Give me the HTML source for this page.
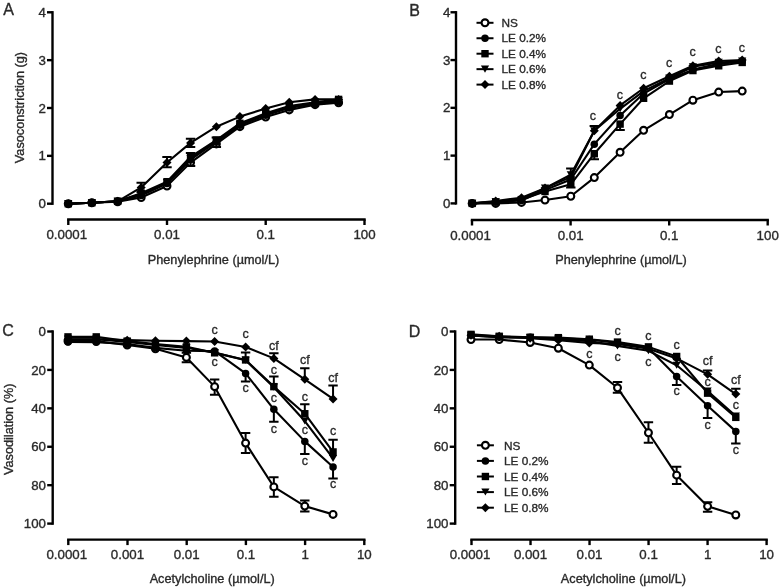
<!DOCTYPE html>
<html><head><meta charset="utf-8"><style>
html,body{margin:0;padding:0;background:#fff;}
svg{display:block;will-change:transform;}
text{font-family:"Liberation Sans", sans-serif;stroke:#2a2a2a;stroke-width:0.35px;}
</style></head><body>
<svg width="781" height="588" viewBox="0 0 781 588">
<rect width="781" height="588" fill="#fff"/>
<path d="M52.50,12.30 L52.50,203.70" stroke="#000" stroke-width="2.4" stroke-linecap="square"/>
<path d="M47.00,203.70 L52.50,203.70" stroke="#000" stroke-width="2.4"/>
<text x="46.00" y="208.30" font-size="13.3" text-anchor="end" fill="#2a2a2a" >0</text>
<path d="M47.00,155.85 L52.50,155.85" stroke="#000" stroke-width="2.4"/>
<text x="46.00" y="160.45" font-size="13.3" text-anchor="end" fill="#2a2a2a" >1</text>
<path d="M47.00,108.00 L52.50,108.00" stroke="#000" stroke-width="2.4"/>
<text x="46.00" y="112.60" font-size="13.3" text-anchor="end" fill="#2a2a2a" >2</text>
<path d="M47.00,60.15 L52.50,60.15" stroke="#000" stroke-width="2.4"/>
<text x="46.00" y="64.75" font-size="13.3" text-anchor="end" fill="#2a2a2a" >3</text>
<path d="M47.00,12.30 L52.50,12.30" stroke="#000" stroke-width="2.4"/>
<text x="46.00" y="16.90" font-size="13.3" text-anchor="end" fill="#2a2a2a" >4</text>
<path d="M68.30,219.50 L364.50,219.50" stroke="#000" stroke-width="2.4" stroke-linecap="square"/>
<path d="M68.30,219.50 L68.30,225.00" stroke="#000" stroke-width="2.4"/>
<text x="66.80" y="239.00" font-size="13.3" text-anchor="middle" fill="#2a2a2a" >0.0001</text>
<path d="M167.00,219.50 L167.00,225.00" stroke="#000" stroke-width="2.4"/>
<text x="167.00" y="239.00" font-size="13.3" text-anchor="middle" fill="#2a2a2a" >0.01</text>
<path d="M265.70,219.50 L265.70,225.00" stroke="#000" stroke-width="2.4"/>
<text x="265.70" y="239.00" font-size="13.3" text-anchor="middle" fill="#2a2a2a" >0.1</text>
<path d="M364.50,219.50 L364.50,225.00" stroke="#000" stroke-width="2.4"/>
<text x="364.50" y="239.00" font-size="13.3" text-anchor="middle" fill="#2a2a2a" >100</text>
<text x="213.50" y="263.80" font-size="12.7" text-anchor="middle" fill="#2a2a2a" >Phenylephrine (µmol/L)</text>
<text x="24.3" y="107.6" font-size="12.7" text-anchor="middle" fill="#2a2a2a" transform="rotate(-90 24.3 107.6)">Vasoconstriction (g)</text>
<text x="8.70" y="15.00" font-size="16" text-anchor="middle" fill="#2a2a2a" >A</text>
<path d="M68.30,203.70 L91.85,202.74 L117.65,201.79 L141.20,197.48 L167.00,186.00 L190.55,162.55 L216.35,143.89 L239.90,126.66 L265.70,117.09 L289.25,109.91 L315.05,104.65 L338.60,102.74" fill="none" stroke="#000" stroke-width="2.1" stroke-linejoin="round"/>
<circle cx="68.30" cy="203.70" r="3.45" fill="#fff" stroke="#000" stroke-width="2.1"/>
<circle cx="91.85" cy="202.74" r="3.45" fill="#fff" stroke="#000" stroke-width="2.1"/>
<circle cx="117.65" cy="201.79" r="3.45" fill="#fff" stroke="#000" stroke-width="2.1"/>
<circle cx="141.20" cy="197.48" r="3.45" fill="#fff" stroke="#000" stroke-width="2.1"/>
<circle cx="167.00" cy="186.00" r="3.45" fill="#fff" stroke="#000" stroke-width="2.1"/>
<circle cx="190.55" cy="162.55" r="3.45" fill="#fff" stroke="#000" stroke-width="2.1"/>
<circle cx="216.35" cy="143.89" r="3.45" fill="#fff" stroke="#000" stroke-width="2.1"/>
<circle cx="239.90" cy="126.66" r="3.45" fill="#fff" stroke="#000" stroke-width="2.1"/>
<circle cx="265.70" cy="117.09" r="3.45" fill="#fff" stroke="#000" stroke-width="2.1"/>
<circle cx="289.25" cy="109.91" r="3.45" fill="#fff" stroke="#000" stroke-width="2.1"/>
<circle cx="315.05" cy="104.65" r="3.45" fill="#fff" stroke="#000" stroke-width="2.1"/>
<circle cx="338.60" cy="102.74" r="3.45" fill="#fff" stroke="#000" stroke-width="2.1"/>
<path d="M68.30,203.70 L91.85,202.74 L117.65,201.31 L141.20,195.57 L167.00,183.60 L190.55,159.68 L216.35,141.97 L239.90,125.23 L265.70,115.18 L289.25,108.00 L315.05,103.69 L338.60,101.78" fill="none" stroke="#000" stroke-width="2.1" stroke-linejoin="round"/>
<circle cx="68.30" cy="203.70" r="3.75" fill="#000"/>
<circle cx="91.85" cy="202.74" r="3.75" fill="#000"/>
<circle cx="117.65" cy="201.31" r="3.75" fill="#000"/>
<circle cx="141.20" cy="195.57" r="3.75" fill="#000"/>
<circle cx="167.00" cy="183.60" r="3.75" fill="#000"/>
<circle cx="190.55" cy="159.68" r="3.75" fill="#000"/>
<circle cx="216.35" cy="141.97" r="3.75" fill="#000"/>
<circle cx="239.90" cy="125.23" r="3.75" fill="#000"/>
<circle cx="265.70" cy="115.18" r="3.75" fill="#000"/>
<circle cx="289.25" cy="108.00" r="3.75" fill="#000"/>
<circle cx="315.05" cy="103.69" r="3.75" fill="#000"/>
<circle cx="338.60" cy="101.78" r="3.75" fill="#000"/>
<path d="M68.30,203.70 L91.85,202.74 L117.65,201.31 L141.20,193.17 L167.00,181.69 L190.55,156.81 L216.35,140.06 L239.90,123.31 L265.70,113.26 L289.25,106.09 L315.05,102.26 L338.60,99.39" fill="none" stroke="#000" stroke-width="2.1" stroke-linejoin="round"/>
<path d="M190.55,153.00 L190.55,166.10 M185.85,153.00 L195.25,153.00 M185.85,166.10 L195.25,166.10" stroke="#000" stroke-width="2" fill="none"/>
<path d="M216.35,137.40 L216.35,146.90 M211.65,137.40 L221.05,137.40 M211.65,146.90 L221.05,146.90" stroke="#000" stroke-width="2" fill="none"/>
<rect x="64.60" y="200.00" width="7.40" height="7.40" fill="#000"/>
<rect x="88.15" y="199.04" width="7.40" height="7.40" fill="#000"/>
<rect x="113.95" y="197.61" width="7.40" height="7.40" fill="#000"/>
<rect x="137.50" y="189.47" width="7.40" height="7.40" fill="#000"/>
<rect x="163.30" y="177.99" width="7.40" height="7.40" fill="#000"/>
<rect x="186.85" y="153.11" width="7.40" height="7.40" fill="#000"/>
<rect x="212.65" y="136.36" width="7.40" height="7.40" fill="#000"/>
<rect x="236.20" y="119.61" width="7.40" height="7.40" fill="#000"/>
<rect x="262.00" y="109.56" width="7.40" height="7.40" fill="#000"/>
<rect x="285.55" y="102.39" width="7.40" height="7.40" fill="#000"/>
<rect x="311.35" y="98.56" width="7.40" height="7.40" fill="#000"/>
<rect x="334.90" y="95.69" width="7.40" height="7.40" fill="#000"/>
<path d="M68.30,203.70 L91.85,202.74 L117.65,201.31 L141.20,194.13 L167.00,182.65 L190.55,158.72 L216.35,141.02 L239.90,124.75 L265.70,114.22 L289.25,107.04 L315.05,103.21 L338.60,100.82" fill="none" stroke="#000" stroke-width="2.1" stroke-linejoin="round"/>
<path d="M64.20,200.10 L72.40,200.10 L68.30,207.20Z" fill="#000"/>
<path d="M87.75,199.14 L95.95,199.14 L91.85,206.24Z" fill="#000"/>
<path d="M113.55,197.71 L121.75,197.71 L117.65,204.81Z" fill="#000"/>
<path d="M137.10,190.53 L145.30,190.53 L141.20,197.63Z" fill="#000"/>
<path d="M162.90,179.05 L171.10,179.05 L167.00,186.15Z" fill="#000"/>
<path d="M186.45,155.12 L194.65,155.12 L190.55,162.22Z" fill="#000"/>
<path d="M212.25,137.42 L220.45,137.42 L216.35,144.52Z" fill="#000"/>
<path d="M235.80,121.15 L244.00,121.15 L239.90,128.25Z" fill="#000"/>
<path d="M261.60,110.62 L269.80,110.62 L265.70,117.72Z" fill="#000"/>
<path d="M285.15,103.44 L293.35,103.44 L289.25,110.54Z" fill="#000"/>
<path d="M310.95,99.61 L319.15,99.61 L315.05,106.71Z" fill="#000"/>
<path d="M334.50,97.22 L342.70,97.22 L338.60,104.32Z" fill="#000"/>
<path d="M68.30,203.70 L91.85,202.74 L117.65,201.31 L141.20,187.43 L167.00,162.55 L190.55,142.93 L216.35,126.66 L239.90,116.61 L265.70,108.48 L289.25,102.26 L315.05,99.39 L338.60,99.39" fill="none" stroke="#000" stroke-width="2.1" stroke-linejoin="round"/>
<path d="M141.20,182.70 L141.20,192.00 M136.50,182.70 L145.90,182.70 M136.50,192.00 L145.90,192.00" stroke="#000" stroke-width="2" fill="none"/>
<path d="M167.00,157.10 L167.00,167.30 M162.30,157.10 L171.70,157.10 M162.30,167.30 L171.70,167.30" stroke="#000" stroke-width="2" fill="none"/>
<path d="M190.55,138.70 L190.55,146.90 M185.85,138.70 L195.25,138.70 M185.85,146.90 L195.25,146.90" stroke="#000" stroke-width="2" fill="none"/>
<path d="M63.80,203.70 L68.30,199.20 L72.80,203.70 L68.30,208.20Z" fill="#000"/>
<path d="M87.35,202.74 L91.85,198.24 L96.35,202.74 L91.85,207.24Z" fill="#000"/>
<path d="M113.15,201.31 L117.65,196.81 L122.15,201.31 L117.65,205.81Z" fill="#000"/>
<path d="M136.70,187.43 L141.20,182.93 L145.70,187.43 L141.20,191.93Z" fill="#000"/>
<path d="M162.50,162.55 L167.00,158.05 L171.50,162.55 L167.00,167.05Z" fill="#000"/>
<path d="M186.05,142.93 L190.55,138.43 L195.05,142.93 L190.55,147.43Z" fill="#000"/>
<path d="M211.85,126.66 L216.35,122.16 L220.85,126.66 L216.35,131.16Z" fill="#000"/>
<path d="M235.40,116.61 L239.90,112.11 L244.40,116.61 L239.90,121.11Z" fill="#000"/>
<path d="M261.20,108.48 L265.70,103.98 L270.20,108.48 L265.70,112.98Z" fill="#000"/>
<path d="M284.75,102.26 L289.25,97.76 L293.75,102.26 L289.25,106.76Z" fill="#000"/>
<path d="M310.55,99.39 L315.05,94.89 L319.55,99.39 L315.05,103.89Z" fill="#000"/>
<path d="M334.10,99.39 L338.60,94.89 L343.10,99.39 L338.60,103.89Z" fill="#000"/>
<path d="M456.00,12.28 L456.00,203.40" stroke="#000" stroke-width="2.4" stroke-linecap="square"/>
<path d="M450.50,203.40 L456.00,203.40" stroke="#000" stroke-width="2.4"/>
<text x="450.30" y="208.00" font-size="13.3" text-anchor="end" fill="#2a2a2a" >0</text>
<path d="M450.50,155.62 L456.00,155.62" stroke="#000" stroke-width="2.4"/>
<text x="450.30" y="160.22" font-size="13.3" text-anchor="end" fill="#2a2a2a" >1</text>
<path d="M450.50,107.84 L456.00,107.84" stroke="#000" stroke-width="2.4"/>
<text x="450.30" y="112.44" font-size="13.3" text-anchor="end" fill="#2a2a2a" >2</text>
<path d="M450.50,60.06 L456.00,60.06" stroke="#000" stroke-width="2.4"/>
<text x="450.30" y="64.66" font-size="13.3" text-anchor="end" fill="#2a2a2a" >3</text>
<path d="M450.50,12.28 L456.00,12.28" stroke="#000" stroke-width="2.4"/>
<text x="450.30" y="16.88" font-size="13.3" text-anchor="end" fill="#2a2a2a" >4</text>
<path d="M472.00,220.00 L767.70,220.00" stroke="#000" stroke-width="2.4" stroke-linecap="square"/>
<path d="M472.00,220.00 L472.00,225.50" stroke="#000" stroke-width="2.4"/>
<text x="470.50" y="239.80" font-size="13.3" text-anchor="middle" fill="#2a2a2a" >0.0001</text>
<path d="M570.60,220.00 L570.60,225.50" stroke="#000" stroke-width="2.4"/>
<text x="570.60" y="239.80" font-size="13.3" text-anchor="middle" fill="#2a2a2a" >0.01</text>
<path d="M669.20,220.00 L669.20,225.50" stroke="#000" stroke-width="2.4"/>
<text x="669.20" y="239.80" font-size="13.3" text-anchor="middle" fill="#2a2a2a" >0.1</text>
<path d="M767.70,220.00 L767.70,225.50" stroke="#000" stroke-width="2.4"/>
<text x="767.70" y="239.80" font-size="13.3" text-anchor="middle" fill="#2a2a2a" >100</text>
<text x="621.00" y="263.90" font-size="12.7" text-anchor="middle" fill="#2a2a2a" >Phenylephrine (µmol/L)</text>
<text x="414.50" y="16.20" font-size="16" text-anchor="middle" fill="#2a2a2a" >B</text>
<path d="M472.20,203.40 L495.70,203.40 L521.50,202.44 L545.00,200.06 L570.80,196.23 L594.30,177.60 L620.10,152.28 L643.60,130.30 L669.40,114.53 L692.90,100.20 L718.70,92.07 L742.20,91.12" fill="none" stroke="#000" stroke-width="2.1" stroke-linejoin="round"/>
<circle cx="472.20" cy="203.40" r="3.45" fill="#fff" stroke="#000" stroke-width="2.1"/>
<circle cx="495.70" cy="203.40" r="3.45" fill="#fff" stroke="#000" stroke-width="2.1"/>
<circle cx="521.50" cy="202.44" r="3.45" fill="#fff" stroke="#000" stroke-width="2.1"/>
<circle cx="545.00" cy="200.06" r="3.45" fill="#fff" stroke="#000" stroke-width="2.1"/>
<circle cx="570.80" cy="196.23" r="3.45" fill="#fff" stroke="#000" stroke-width="2.1"/>
<circle cx="594.30" cy="177.60" r="3.45" fill="#fff" stroke="#000" stroke-width="2.1"/>
<circle cx="620.10" cy="152.28" r="3.45" fill="#fff" stroke="#000" stroke-width="2.1"/>
<circle cx="643.60" cy="130.30" r="3.45" fill="#fff" stroke="#000" stroke-width="2.1"/>
<circle cx="669.40" cy="114.53" r="3.45" fill="#fff" stroke="#000" stroke-width="2.1"/>
<circle cx="692.90" cy="100.20" r="3.45" fill="#fff" stroke="#000" stroke-width="2.1"/>
<circle cx="718.70" cy="92.07" r="3.45" fill="#fff" stroke="#000" stroke-width="2.1"/>
<circle cx="742.20" cy="91.12" r="3.45" fill="#fff" stroke="#000" stroke-width="2.1"/>
<path d="M472.20,203.40 L495.70,201.97 L521.50,200.53 L545.00,190.02 L570.80,179.51 L594.30,144.15 L620.10,115.48 L643.60,93.51 L669.40,79.17 L692.90,69.62 L718.70,63.88 L742.20,61.49" fill="none" stroke="#000" stroke-width="2.1" stroke-linejoin="round"/>
<circle cx="472.20" cy="203.40" r="3.75" fill="#000"/>
<circle cx="495.70" cy="201.97" r="3.75" fill="#000"/>
<circle cx="521.50" cy="200.53" r="3.75" fill="#000"/>
<circle cx="545.00" cy="190.02" r="3.75" fill="#000"/>
<circle cx="570.80" cy="179.51" r="3.75" fill="#000"/>
<circle cx="594.30" cy="144.15" r="3.75" fill="#000"/>
<circle cx="620.10" cy="115.48" r="3.75" fill="#000"/>
<circle cx="643.60" cy="93.51" r="3.75" fill="#000"/>
<circle cx="669.40" cy="79.17" r="3.75" fill="#000"/>
<circle cx="692.90" cy="69.62" r="3.75" fill="#000"/>
<circle cx="718.70" cy="63.88" r="3.75" fill="#000"/>
<circle cx="742.20" cy="61.49" r="3.75" fill="#000"/>
<path d="M472.20,203.40 L495.70,201.97 L521.50,199.58 L545.00,191.46 L570.80,184.29 L594.30,153.71 L620.10,124.09 L643.60,98.28 L669.40,81.08 L692.90,70.57 L718.70,65.79 L742.20,62.45" fill="none" stroke="#000" stroke-width="2.1" stroke-linejoin="round"/>
<path d="M570.80,184.29 L570.80,187.50 M566.10,187.50 L575.50,187.50" stroke="#000" stroke-width="2" fill="none"/>
<path d="M594.30,153.71 L594.30,159.30 M589.60,159.30 L599.00,159.30" stroke="#000" stroke-width="2" fill="none"/>
<path d="M620.10,124.09 L620.10,129.90 M615.40,129.90 L624.80,129.90" stroke="#000" stroke-width="2" fill="none"/>
<rect x="468.50" y="199.70" width="7.40" height="7.40" fill="#000"/>
<rect x="492.00" y="198.27" width="7.40" height="7.40" fill="#000"/>
<rect x="517.80" y="195.88" width="7.40" height="7.40" fill="#000"/>
<rect x="541.30" y="187.76" width="7.40" height="7.40" fill="#000"/>
<rect x="567.10" y="180.59" width="7.40" height="7.40" fill="#000"/>
<rect x="590.60" y="150.01" width="7.40" height="7.40" fill="#000"/>
<rect x="616.40" y="120.39" width="7.40" height="7.40" fill="#000"/>
<rect x="639.90" y="94.58" width="7.40" height="7.40" fill="#000"/>
<rect x="665.70" y="77.38" width="7.40" height="7.40" fill="#000"/>
<rect x="689.20" y="66.87" width="7.40" height="7.40" fill="#000"/>
<rect x="715.00" y="62.09" width="7.40" height="7.40" fill="#000"/>
<rect x="738.50" y="58.75" width="7.40" height="7.40" fill="#000"/>
<path d="M472.20,203.40 L495.70,201.97 L521.50,199.58 L545.00,188.11 L570.80,174.73 L594.30,130.77 L620.10,108.80 L643.60,91.12 L669.40,78.22 L692.90,66.75 L718.70,62.45 L742.20,61.02" fill="none" stroke="#000" stroke-width="2.1" stroke-linejoin="round"/>
<path d="M570.80,168.50 L570.80,174.73 M566.10,168.50 L575.50,168.50" stroke="#000" stroke-width="2" fill="none"/>
<path d="M594.30,126.10 L594.30,130.77 M589.60,126.10 L599.00,126.10" stroke="#000" stroke-width="2" fill="none"/>
<path d="M468.10,199.80 L476.30,199.80 L472.20,206.90Z" fill="#000"/>
<path d="M491.60,198.37 L499.80,198.37 L495.70,205.47Z" fill="#000"/>
<path d="M517.40,195.98 L525.60,195.98 L521.50,203.08Z" fill="#000"/>
<path d="M540.90,184.51 L549.10,184.51 L545.00,191.61Z" fill="#000"/>
<path d="M566.70,171.13 L574.90,171.13 L570.80,178.23Z" fill="#000"/>
<path d="M590.20,127.17 L598.40,127.17 L594.30,134.27Z" fill="#000"/>
<path d="M616.00,105.20 L624.20,105.20 L620.10,112.30Z" fill="#000"/>
<path d="M639.50,87.52 L647.70,87.52 L643.60,94.62Z" fill="#000"/>
<path d="M665.30,74.62 L673.50,74.62 L669.40,81.72Z" fill="#000"/>
<path d="M688.80,63.15 L697.00,63.15 L692.90,70.25Z" fill="#000"/>
<path d="M714.60,58.85 L722.80,58.85 L718.70,65.95Z" fill="#000"/>
<path d="M738.10,57.42 L746.30,57.42 L742.20,64.52Z" fill="#000"/>
<path d="M472.20,203.40 L495.70,201.01 L521.50,197.67 L545.00,188.11 L570.80,177.12 L594.30,130.77 L620.10,105.45 L643.60,88.25 L669.40,76.31 L692.90,65.79 L718.70,61.02 L742.20,60.06" fill="none" stroke="#000" stroke-width="2.1" stroke-linejoin="round"/>
<path d="M467.70,203.40 L472.20,198.90 L476.70,203.40 L472.20,207.90Z" fill="#000"/>
<path d="M491.20,201.01 L495.70,196.51 L500.20,201.01 L495.70,205.51Z" fill="#000"/>
<path d="M517.00,197.67 L521.50,193.17 L526.00,197.67 L521.50,202.17Z" fill="#000"/>
<path d="M540.50,188.11 L545.00,183.61 L549.50,188.11 L545.00,192.61Z" fill="#000"/>
<path d="M566.30,177.12 L570.80,172.62 L575.30,177.12 L570.80,181.62Z" fill="#000"/>
<path d="M589.80,130.77 L594.30,126.27 L598.80,130.77 L594.30,135.27Z" fill="#000"/>
<path d="M615.60,105.45 L620.10,100.95 L624.60,105.45 L620.10,109.95Z" fill="#000"/>
<path d="M639.10,88.25 L643.60,83.75 L648.10,88.25 L643.60,92.75Z" fill="#000"/>
<path d="M664.90,76.31 L669.40,71.81 L673.90,76.31 L669.40,80.81Z" fill="#000"/>
<path d="M688.40,65.79 L692.90,61.29 L697.40,65.79 L692.90,70.29Z" fill="#000"/>
<path d="M714.20,61.02 L718.70,56.52 L723.20,61.02 L718.70,65.52Z" fill="#000"/>
<path d="M737.70,60.06 L742.20,55.56 L746.70,60.06 L742.20,64.56Z" fill="#000"/>
<text x="592.80" y="120.30" font-size="12.5" text-anchor="middle" fill="#2a2a2a" >c</text>
<text x="619.80" y="99.10" font-size="12.5" text-anchor="middle" fill="#2a2a2a" >c</text>
<text x="643.30" y="79.30" font-size="12.5" text-anchor="middle" fill="#2a2a2a" >c</text>
<text x="669.10" y="67.00" font-size="12.5" text-anchor="middle" fill="#2a2a2a" >c</text>
<text x="692.60" y="56.30" font-size="12.5" text-anchor="middle" fill="#2a2a2a" >c</text>
<text x="718.40" y="52.90" font-size="12.5" text-anchor="middle" fill="#2a2a2a" >c</text>
<text x="741.90" y="52.30" font-size="12.5" text-anchor="middle" fill="#2a2a2a" >c</text>
<path d="M476.50,22.80 L493.50,22.80" stroke="#000" stroke-width="2"/>
<circle cx="485.00" cy="22.80" r="3.45" fill="#fff" stroke="#000" stroke-width="2.1"/>
<text x="501.50" y="27.00" font-size="11.8" text-anchor="start" fill="#2a2a2a" >NS</text>
<path d="M476.50,38.25 L493.50,38.25" stroke="#000" stroke-width="2"/>
<circle cx="485.00" cy="38.25" r="3.75" fill="#000"/>
<text x="501.50" y="42.45" font-size="11.8" text-anchor="start" fill="#2a2a2a" >LE 0.2%</text>
<path d="M476.50,53.70 L493.50,53.70" stroke="#000" stroke-width="2"/>
<rect x="481.30" y="50.00" width="7.40" height="7.40" fill="#000"/>
<text x="501.50" y="57.90" font-size="11.8" text-anchor="start" fill="#2a2a2a" >LE 0.4%</text>
<path d="M476.50,69.15 L493.50,69.15" stroke="#000" stroke-width="2"/>
<path d="M480.90,65.55 L489.10,65.55 L485.00,72.65Z" fill="#000"/>
<text x="501.50" y="73.35" font-size="11.8" text-anchor="start" fill="#2a2a2a" >LE 0.6%</text>
<path d="M476.50,84.60 L493.50,84.60" stroke="#000" stroke-width="2"/>
<path d="M480.50,84.60 L485.00,80.10 L489.50,84.60 L485.00,89.10Z" fill="#000"/>
<text x="501.50" y="88.80" font-size="11.8" text-anchor="start" fill="#2a2a2a" >LE 0.8%</text>
<path d="M52.70,331.50 L52.70,523.60" stroke="#000" stroke-width="2.4" stroke-linecap="square"/>
<path d="M47.20,331.50 L52.70,331.50" stroke="#000" stroke-width="2.4"/>
<text x="46.00" y="336.10" font-size="13.3" text-anchor="end" fill="#2a2a2a" >0</text>
<path d="M47.20,369.92 L52.70,369.92" stroke="#000" stroke-width="2.4"/>
<text x="46.00" y="374.52" font-size="13.3" text-anchor="end" fill="#2a2a2a" >20</text>
<path d="M47.20,408.34 L52.70,408.34" stroke="#000" stroke-width="2.4"/>
<text x="46.00" y="412.94" font-size="13.3" text-anchor="end" fill="#2a2a2a" >40</text>
<path d="M47.20,446.76 L52.70,446.76" stroke="#000" stroke-width="2.4"/>
<text x="46.00" y="451.36" font-size="13.3" text-anchor="end" fill="#2a2a2a" >60</text>
<path d="M47.20,485.18 L52.70,485.18" stroke="#000" stroke-width="2.4"/>
<text x="46.00" y="489.78" font-size="13.3" text-anchor="end" fill="#2a2a2a" >80</text>
<path d="M47.20,523.60 L52.70,523.60" stroke="#000" stroke-width="2.4"/>
<text x="46.00" y="528.20" font-size="13.3" text-anchor="end" fill="#2a2a2a" >100</text>
<path d="M68.30,539.60 L364.30,539.60" stroke="#000" stroke-width="2.4" stroke-linecap="square"/>
<path d="M68.30,539.60 L68.30,545.10" stroke="#000" stroke-width="2.4"/>
<text x="66.80" y="558.80" font-size="13.3" text-anchor="middle" fill="#2a2a2a" >0.0001</text>
<path d="M127.50,539.60 L127.50,545.10" stroke="#000" stroke-width="2.4"/>
<text x="127.50" y="558.80" font-size="13.3" text-anchor="middle" fill="#2a2a2a" >0.001</text>
<path d="M186.70,539.60 L186.70,545.10" stroke="#000" stroke-width="2.4"/>
<text x="186.70" y="558.80" font-size="13.3" text-anchor="middle" fill="#2a2a2a" >0.01</text>
<path d="M245.90,539.60 L245.90,545.10" stroke="#000" stroke-width="2.4"/>
<text x="245.90" y="558.80" font-size="13.3" text-anchor="middle" fill="#2a2a2a" >0.1</text>
<path d="M305.10,539.60 L305.10,545.10" stroke="#000" stroke-width="2.4"/>
<text x="305.10" y="558.80" font-size="13.3" text-anchor="middle" fill="#2a2a2a" >1</text>
<path d="M364.30,539.60 L364.30,545.10" stroke="#000" stroke-width="2.4"/>
<text x="364.30" y="558.80" font-size="13.3" text-anchor="middle" fill="#2a2a2a" >10</text>
<text x="212.20" y="582.50" font-size="12.7" text-anchor="middle" fill="#2a2a2a" >Acetylcholine (µmol/L)</text>
<text x="13.2" y="429.3" font-size="12.7" text-anchor="middle" fill="#2a2a2a" transform="rotate(-90 13.2 429.3)">Vasodilation (%)</text>
<text x="8.00" y="336.00" font-size="16" text-anchor="middle" fill="#2a2a2a" >C</text>
<path d="M68.00,341.11 L96.25,341.11 L127.20,344.95 L155.45,348.79 L186.40,357.43 L214.65,386.63 L245.60,443.11 L273.85,486.91 L304.80,506.12 L333.05,514.38" fill="none" stroke="#000" stroke-width="2.1" stroke-linejoin="round"/>
<path d="M186.40,352.63 L186.40,362.24 M181.70,352.63 L191.10,352.63 M181.70,362.24 L191.10,362.24" stroke="#000" stroke-width="2" fill="none"/>
<path d="M214.65,379.40 L214.65,394.80 M209.95,379.40 L219.35,379.40 M209.95,394.80 L219.35,394.80" stroke="#000" stroke-width="2" fill="none"/>
<path d="M245.60,433.10 L245.60,453.00 M240.90,433.10 L250.30,433.10 M240.90,453.00 L250.30,453.00" stroke="#000" stroke-width="2" fill="none"/>
<path d="M273.85,477.30 L273.85,496.80 M269.15,477.30 L278.55,477.30 M269.15,496.80 L278.55,496.80" stroke="#000" stroke-width="2" fill="none"/>
<path d="M304.80,500.60 L304.80,511.60 M300.10,500.60 L309.50,500.60 M300.10,511.60 L309.50,511.60" stroke="#000" stroke-width="2" fill="none"/>
<circle cx="68.00" cy="341.11" r="3.45" fill="#fff" stroke="#000" stroke-width="2.1"/>
<circle cx="96.25" cy="341.11" r="3.45" fill="#fff" stroke="#000" stroke-width="2.1"/>
<circle cx="127.20" cy="344.95" r="3.45" fill="#fff" stroke="#000" stroke-width="2.1"/>
<circle cx="155.45" cy="348.79" r="3.45" fill="#fff" stroke="#000" stroke-width="2.1"/>
<circle cx="186.40" cy="357.43" r="3.45" fill="#fff" stroke="#000" stroke-width="2.1"/>
<circle cx="214.65" cy="386.63" r="3.45" fill="#fff" stroke="#000" stroke-width="2.1"/>
<circle cx="245.60" cy="443.11" r="3.45" fill="#fff" stroke="#000" stroke-width="2.1"/>
<circle cx="273.85" cy="486.91" r="3.45" fill="#fff" stroke="#000" stroke-width="2.1"/>
<circle cx="304.80" cy="506.12" r="3.45" fill="#fff" stroke="#000" stroke-width="2.1"/>
<circle cx="333.05" cy="514.38" r="3.45" fill="#fff" stroke="#000" stroke-width="2.1"/>
<path d="M68.00,342.07 L96.25,342.26 L127.20,343.99 L155.45,347.83 L186.40,350.71 L214.65,351.09 L245.60,373.38 L273.85,409.30 L304.80,441.38 L333.05,466.93" fill="none" stroke="#000" stroke-width="2.1" stroke-linejoin="round"/>
<path d="M245.60,373.38 L245.60,381.50 M240.90,381.50 L250.30,381.50" stroke="#000" stroke-width="2" fill="none"/>
<path d="M273.85,409.30 L273.85,421.70 M269.15,421.70 L278.55,421.70" stroke="#000" stroke-width="2" fill="none"/>
<path d="M304.80,441.38 L304.80,454.10 M300.10,454.10 L309.50,454.10" stroke="#000" stroke-width="2" fill="none"/>
<path d="M333.05,466.93 L333.05,478.50 M328.35,478.50 L337.75,478.50" stroke="#000" stroke-width="2" fill="none"/>
<circle cx="68.00" cy="342.07" r="3.75" fill="#000"/>
<circle cx="96.25" cy="342.26" r="3.75" fill="#000"/>
<circle cx="127.20" cy="343.99" r="3.75" fill="#000"/>
<circle cx="155.45" cy="347.83" r="3.75" fill="#000"/>
<circle cx="186.40" cy="350.71" r="3.75" fill="#000"/>
<circle cx="214.65" cy="351.09" r="3.75" fill="#000"/>
<circle cx="245.60" cy="373.38" r="3.75" fill="#000"/>
<circle cx="273.85" cy="409.30" r="3.75" fill="#000"/>
<circle cx="304.80" cy="441.38" r="3.75" fill="#000"/>
<circle cx="333.05" cy="466.93" r="3.75" fill="#000"/>
<path d="M68.00,339.18 L96.25,339.18 L127.20,342.07 L155.45,344.95 L186.40,347.83 L214.65,352.63 L245.60,360.31 L273.85,387.21 L304.80,421.02 L333.05,458.48" fill="none" stroke="#000" stroke-width="2.1" stroke-linejoin="round"/>
<path d="M63.90,335.58 L72.10,335.58 L68.00,342.68Z" fill="#000"/>
<path d="M92.15,335.58 L100.35,335.58 L96.25,342.68Z" fill="#000"/>
<path d="M123.10,338.47 L131.30,338.47 L127.20,345.57Z" fill="#000"/>
<path d="M151.35,341.35 L159.55,341.35 L155.45,348.45Z" fill="#000"/>
<path d="M182.30,344.23 L190.50,344.23 L186.40,351.33Z" fill="#000"/>
<path d="M210.55,349.03 L218.75,349.03 L214.65,356.13Z" fill="#000"/>
<path d="M241.50,356.71 L249.70,356.71 L245.60,363.81Z" fill="#000"/>
<path d="M269.75,383.61 L277.95,383.61 L273.85,390.71Z" fill="#000"/>
<path d="M300.70,417.42 L308.90,417.42 L304.80,424.52Z" fill="#000"/>
<path d="M328.95,454.88 L337.15,454.88 L333.05,461.98Z" fill="#000"/>
<path d="M68.00,336.88 L96.25,336.88 L127.20,341.11 L155.45,343.99 L186.40,346.87 L214.65,352.82 L245.60,359.93 L273.85,386.63 L304.80,413.72 L333.05,451.95" fill="none" stroke="#000" stroke-width="2.1" stroke-linejoin="round"/>
<path d="M245.60,352.40 L245.60,359.93 M240.90,352.40 L250.30,352.40" stroke="#000" stroke-width="2" fill="none"/>
<path d="M273.85,376.50 L273.85,386.63 M269.15,376.50 L278.55,376.50" stroke="#000" stroke-width="2" fill="none"/>
<path d="M304.80,404.20 L304.80,413.72 M300.10,404.20 L309.50,404.20" stroke="#000" stroke-width="2" fill="none"/>
<path d="M333.05,439.80 L333.05,451.95 M328.35,439.80 L337.75,439.80" stroke="#000" stroke-width="2" fill="none"/>
<rect x="64.30" y="333.18" width="7.40" height="7.40" fill="#000"/>
<rect x="92.55" y="333.18" width="7.40" height="7.40" fill="#000"/>
<rect x="123.50" y="337.41" width="7.40" height="7.40" fill="#000"/>
<rect x="151.75" y="340.29" width="7.40" height="7.40" fill="#000"/>
<rect x="182.70" y="343.17" width="7.40" height="7.40" fill="#000"/>
<rect x="210.95" y="349.12" width="7.40" height="7.40" fill="#000"/>
<rect x="241.90" y="356.23" width="7.40" height="7.40" fill="#000"/>
<rect x="270.15" y="382.93" width="7.40" height="7.40" fill="#000"/>
<rect x="301.10" y="410.02" width="7.40" height="7.40" fill="#000"/>
<rect x="329.35" y="448.25" width="7.40" height="7.40" fill="#000"/>
<path d="M68.00,339.18 L96.25,339.18 L127.20,340.14 L155.45,340.72 L186.40,341.11 L214.65,341.49 L245.60,347.06 L273.85,358.39 L304.80,379.33 L333.05,398.93" fill="none" stroke="#000" stroke-width="2.1" stroke-linejoin="round"/>
<path d="M273.85,353.20 L273.85,358.39 M269.15,353.20 L278.55,353.20" stroke="#000" stroke-width="2" fill="none"/>
<path d="M304.80,368.30 L304.80,379.33 M300.10,368.30 L309.50,368.30" stroke="#000" stroke-width="2" fill="none"/>
<path d="M333.05,385.50 L333.05,398.93 M328.35,385.50 L337.75,385.50" stroke="#000" stroke-width="2" fill="none"/>
<path d="M63.50,339.18 L68.00,334.68 L72.50,339.18 L68.00,343.68Z" fill="#000"/>
<path d="M91.75,339.18 L96.25,334.68 L100.75,339.18 L96.25,343.68Z" fill="#000"/>
<path d="M122.70,340.14 L127.20,335.64 L131.70,340.14 L127.20,344.64Z" fill="#000"/>
<path d="M150.95,340.72 L155.45,336.22 L159.95,340.72 L155.45,345.22Z" fill="#000"/>
<path d="M181.90,341.11 L186.40,336.61 L190.90,341.11 L186.40,345.61Z" fill="#000"/>
<path d="M210.15,341.49 L214.65,336.99 L219.15,341.49 L214.65,345.99Z" fill="#000"/>
<path d="M241.10,347.06 L245.60,342.56 L250.10,347.06 L245.60,351.56Z" fill="#000"/>
<path d="M269.35,358.39 L273.85,353.89 L278.35,358.39 L273.85,362.89Z" fill="#000"/>
<path d="M300.30,379.33 L304.80,374.83 L309.30,379.33 L304.80,383.83Z" fill="#000"/>
<path d="M328.55,398.93 L333.05,394.43 L337.55,398.93 L333.05,403.43Z" fill="#000"/>
<text x="214.65" y="333.70" font-size="12.5" text-anchor="middle" fill="#2a2a2a" >c</text>
<text x="214.65" y="365.90" font-size="12.5" text-anchor="middle" fill="#2a2a2a" >c</text>
<text x="245.60" y="338.30" font-size="12.5" text-anchor="middle" fill="#2a2a2a" >c</text>
<text x="245.60" y="391.90" font-size="12.5" text-anchor="middle" fill="#2a2a2a" >c</text>
<text x="273.85" y="350.00" font-size="12.5" text-anchor="middle" fill="#2a2a2a" >cf</text>
<text x="273.85" y="373.60" font-size="12.5" text-anchor="middle" fill="#2a2a2a" >c</text>
<text x="273.85" y="401.60" font-size="12.5" text-anchor="middle" fill="#2a2a2a" >c</text>
<text x="273.85" y="432.50" font-size="12.5" text-anchor="middle" fill="#2a2a2a" >c</text>
<text x="304.80" y="364.00" font-size="12.5" text-anchor="middle" fill="#2a2a2a" >cf</text>
<text x="304.80" y="400.70" font-size="12.5" text-anchor="middle" fill="#2a2a2a" >c</text>
<text x="304.80" y="434.40" font-size="12.5" text-anchor="middle" fill="#2a2a2a" >c</text>
<text x="304.80" y="465.30" font-size="12.5" text-anchor="middle" fill="#2a2a2a" >c</text>
<text x="333.05" y="382.00" font-size="12.5" text-anchor="middle" fill="#2a2a2a" >cf</text>
<text x="333.05" y="435.30" font-size="12.5" text-anchor="middle" fill="#2a2a2a" >c</text>
<text x="333.05" y="488.30" font-size="12.5" text-anchor="middle" fill="#2a2a2a" >c</text>
<path d="M455.20,331.50 L455.20,523.60" stroke="#000" stroke-width="2.4" stroke-linecap="square"/>
<path d="M449.70,331.50 L455.20,331.50" stroke="#000" stroke-width="2.4"/>
<text x="448.50" y="336.10" font-size="13.3" text-anchor="end" fill="#2a2a2a" >0</text>
<path d="M449.70,369.92 L455.20,369.92" stroke="#000" stroke-width="2.4"/>
<text x="448.50" y="374.52" font-size="13.3" text-anchor="end" fill="#2a2a2a" >20</text>
<path d="M449.70,408.34 L455.20,408.34" stroke="#000" stroke-width="2.4"/>
<text x="448.50" y="412.94" font-size="13.3" text-anchor="end" fill="#2a2a2a" >40</text>
<path d="M449.70,446.76 L455.20,446.76" stroke="#000" stroke-width="2.4"/>
<text x="448.50" y="451.36" font-size="13.3" text-anchor="end" fill="#2a2a2a" >60</text>
<path d="M449.70,485.18 L455.20,485.18" stroke="#000" stroke-width="2.4"/>
<text x="448.50" y="489.78" font-size="13.3" text-anchor="end" fill="#2a2a2a" >80</text>
<path d="M449.70,523.60 L455.20,523.60" stroke="#000" stroke-width="2.4"/>
<text x="448.50" y="528.20" font-size="13.3" text-anchor="end" fill="#2a2a2a" >100</text>
<path d="M471.50,539.60 L766.60,539.60" stroke="#000" stroke-width="2.4" stroke-linecap="square"/>
<path d="M471.50,539.60 L471.50,545.10" stroke="#000" stroke-width="2.4"/>
<text x="470.00" y="558.80" font-size="13.3" text-anchor="middle" fill="#2a2a2a" >0.0001</text>
<path d="M530.52,539.60 L530.52,545.10" stroke="#000" stroke-width="2.4"/>
<text x="530.52" y="558.80" font-size="13.3" text-anchor="middle" fill="#2a2a2a" >0.001</text>
<path d="M589.54,539.60 L589.54,545.10" stroke="#000" stroke-width="2.4"/>
<text x="589.54" y="558.80" font-size="13.3" text-anchor="middle" fill="#2a2a2a" >0.01</text>
<path d="M648.56,539.60 L648.56,545.10" stroke="#000" stroke-width="2.4"/>
<text x="648.56" y="558.80" font-size="13.3" text-anchor="middle" fill="#2a2a2a" >0.1</text>
<path d="M707.58,539.60 L707.58,545.10" stroke="#000" stroke-width="2.4"/>
<text x="707.58" y="558.80" font-size="13.3" text-anchor="middle" fill="#2a2a2a" >1</text>
<path d="M766.60,539.60 L766.60,545.10" stroke="#000" stroke-width="2.4"/>
<text x="766.60" y="558.80" font-size="13.3" text-anchor="middle" fill="#2a2a2a" >10</text>
<text x="623.40" y="582.50" font-size="12.7" text-anchor="middle" fill="#2a2a2a" >Acetylcholine (µmol/L)</text>
<text x="414.50" y="336.50" font-size="16" text-anchor="middle" fill="#2a2a2a" >D</text>
<path d="M471.00,339.57 L499.20,339.57 L530.15,342.45 L558.35,348.21 L589.30,365.12 L617.50,387.79 L648.45,432.74 L676.65,475.19 L707.60,506.31 L735.80,514.96" fill="none" stroke="#000" stroke-width="2.1" stroke-linejoin="round"/>
<path d="M617.50,382.00 L617.50,392.80 M612.80,382.00 L622.20,382.00 M612.80,392.80 L622.20,392.80" stroke="#000" stroke-width="2" fill="none"/>
<path d="M648.45,422.20 L648.45,442.80 M643.75,422.20 L653.15,422.20 M643.75,442.80 L653.15,442.80" stroke="#000" stroke-width="2" fill="none"/>
<path d="M676.65,466.80 L676.65,484.00 M671.95,466.80 L681.35,466.80 M671.95,484.00 L681.35,484.00" stroke="#000" stroke-width="2" fill="none"/>
<path d="M707.60,502.30 L707.60,511.70 M702.90,502.30 L712.30,502.30 M702.90,511.70 L712.30,511.70" stroke="#000" stroke-width="2" fill="none"/>
<circle cx="471.00" cy="339.57" r="3.45" fill="#fff" stroke="#000" stroke-width="2.1"/>
<circle cx="499.20" cy="339.57" r="3.45" fill="#fff" stroke="#000" stroke-width="2.1"/>
<circle cx="530.15" cy="342.45" r="3.45" fill="#fff" stroke="#000" stroke-width="2.1"/>
<circle cx="558.35" cy="348.21" r="3.45" fill="#fff" stroke="#000" stroke-width="2.1"/>
<circle cx="589.30" cy="365.12" r="3.45" fill="#fff" stroke="#000" stroke-width="2.1"/>
<circle cx="617.50" cy="387.79" r="3.45" fill="#fff" stroke="#000" stroke-width="2.1"/>
<circle cx="648.45" cy="432.74" r="3.45" fill="#fff" stroke="#000" stroke-width="2.1"/>
<circle cx="676.65" cy="475.19" r="3.45" fill="#fff" stroke="#000" stroke-width="2.1"/>
<circle cx="707.60" cy="506.31" r="3.45" fill="#fff" stroke="#000" stroke-width="2.1"/>
<circle cx="735.80" cy="514.96" r="3.45" fill="#fff" stroke="#000" stroke-width="2.1"/>
<path d="M471.00,335.34 L499.20,337.26 L530.15,337.26 L558.35,338.22 L589.30,339.57 L617.50,343.03 L648.45,348.02 L676.65,376.45 L707.60,405.84 L735.80,431.39" fill="none" stroke="#000" stroke-width="2.1" stroke-linejoin="round"/>
<path d="M676.65,376.45 L676.65,385.00 M671.95,385.00 L681.35,385.00" stroke="#000" stroke-width="2" fill="none"/>
<path d="M707.60,405.84 L707.60,417.90 M702.90,417.90 L712.30,417.90" stroke="#000" stroke-width="2" fill="none"/>
<path d="M735.80,431.39 L735.80,443.40 M731.10,443.40 L740.50,443.40" stroke="#000" stroke-width="2" fill="none"/>
<circle cx="471.00" cy="335.34" r="3.75" fill="#000"/>
<circle cx="499.20" cy="337.26" r="3.75" fill="#000"/>
<circle cx="530.15" cy="337.26" r="3.75" fill="#000"/>
<circle cx="558.35" cy="338.22" r="3.75" fill="#000"/>
<circle cx="589.30" cy="339.57" r="3.75" fill="#000"/>
<circle cx="617.50" cy="343.03" r="3.75" fill="#000"/>
<circle cx="648.45" cy="348.02" r="3.75" fill="#000"/>
<circle cx="676.65" cy="376.45" r="3.75" fill="#000"/>
<circle cx="707.60" cy="405.84" r="3.75" fill="#000"/>
<circle cx="735.80" cy="431.39" r="3.75" fill="#000"/>
<path d="M471.00,335.34 L499.20,337.26 L530.15,337.65 L558.35,339.18 L589.30,341.11 L617.50,345.91 L648.45,350.71 L676.65,365.31 L707.60,391.05 L735.80,416.02" fill="none" stroke="#000" stroke-width="2.1" stroke-linejoin="round"/>
<path d="M466.90,331.74 L475.10,331.74 L471.00,338.84Z" fill="#000"/>
<path d="M495.10,333.66 L503.30,333.66 L499.20,340.76Z" fill="#000"/>
<path d="M526.05,334.05 L534.25,334.05 L530.15,341.15Z" fill="#000"/>
<path d="M554.25,335.58 L562.45,335.58 L558.35,342.68Z" fill="#000"/>
<path d="M585.20,337.50 L593.40,337.50 L589.30,344.61Z" fill="#000"/>
<path d="M613.40,342.31 L621.60,342.31 L617.50,349.41Z" fill="#000"/>
<path d="M644.35,347.11 L652.55,347.11 L648.45,354.21Z" fill="#000"/>
<path d="M672.55,361.71 L680.75,361.71 L676.65,368.81Z" fill="#000"/>
<path d="M703.50,387.45 L711.70,387.45 L707.60,394.55Z" fill="#000"/>
<path d="M731.70,412.42 L739.90,412.42 L735.80,419.52Z" fill="#000"/>
<path d="M471.00,334.38 L499.20,336.30 L530.15,337.26 L558.35,337.65 L589.30,339.18 L617.50,342.07 L648.45,346.87 L676.65,356.47 L707.60,393.16 L735.80,417.37" fill="none" stroke="#000" stroke-width="2.1" stroke-linejoin="round"/>
<rect x="467.30" y="330.68" width="7.40" height="7.40" fill="#000"/>
<rect x="495.50" y="332.60" width="7.40" height="7.40" fill="#000"/>
<rect x="526.45" y="333.56" width="7.40" height="7.40" fill="#000"/>
<rect x="554.65" y="333.95" width="7.40" height="7.40" fill="#000"/>
<rect x="585.60" y="335.48" width="7.40" height="7.40" fill="#000"/>
<rect x="613.80" y="338.37" width="7.40" height="7.40" fill="#000"/>
<rect x="644.75" y="343.17" width="7.40" height="7.40" fill="#000"/>
<rect x="672.95" y="352.77" width="7.40" height="7.40" fill="#000"/>
<rect x="703.90" y="389.46" width="7.40" height="7.40" fill="#000"/>
<rect x="732.10" y="413.67" width="7.40" height="7.40" fill="#000"/>
<path d="M471.00,335.34 L499.20,336.30 L530.15,338.22 L558.35,340.14 L589.30,343.03 L617.50,343.99 L648.45,348.79 L676.65,358.39 L707.60,374.34 L735.80,394.12" fill="none" stroke="#000" stroke-width="2.1" stroke-linejoin="round"/>
<path d="M707.60,370.50 L707.60,374.34 M702.90,370.50 L712.30,370.50" stroke="#000" stroke-width="2" fill="none"/>
<path d="M735.80,388.70 L735.80,394.12 M731.10,388.70 L740.50,388.70" stroke="#000" stroke-width="2" fill="none"/>
<path d="M466.50,335.34 L471.00,330.84 L475.50,335.34 L471.00,339.84Z" fill="#000"/>
<path d="M494.70,336.30 L499.20,331.80 L503.70,336.30 L499.20,340.80Z" fill="#000"/>
<path d="M525.65,338.22 L530.15,333.72 L534.65,338.22 L530.15,342.72Z" fill="#000"/>
<path d="M553.85,340.14 L558.35,335.64 L562.85,340.14 L558.35,344.64Z" fill="#000"/>
<path d="M584.80,343.03 L589.30,338.53 L593.80,343.03 L589.30,347.53Z" fill="#000"/>
<path d="M613.00,343.99 L617.50,339.49 L622.00,343.99 L617.50,348.49Z" fill="#000"/>
<path d="M643.95,348.79 L648.45,344.29 L652.95,348.79 L648.45,353.29Z" fill="#000"/>
<path d="M672.15,358.39 L676.65,353.89 L681.15,358.39 L676.65,362.89Z" fill="#000"/>
<path d="M703.10,374.34 L707.60,369.84 L712.10,374.34 L707.60,378.84Z" fill="#000"/>
<path d="M731.30,394.12 L735.80,389.62 L740.30,394.12 L735.80,398.62Z" fill="#000"/>
<text x="589.30" y="358.00" font-size="12.5" text-anchor="middle" fill="#2a2a2a" >c</text>
<text x="617.50" y="334.50" font-size="12.5" text-anchor="middle" fill="#2a2a2a" >c</text>
<text x="617.50" y="361.30" font-size="12.5" text-anchor="middle" fill="#2a2a2a" >c</text>
<text x="648.45" y="340.40" font-size="12.5" text-anchor="middle" fill="#2a2a2a" >c</text>
<text x="648.45" y="366.40" font-size="12.5" text-anchor="middle" fill="#2a2a2a" >c</text>
<text x="676.65" y="349.20" font-size="12.5" text-anchor="middle" fill="#2a2a2a" >c</text>
<text x="676.65" y="395.00" font-size="12.5" text-anchor="middle" fill="#2a2a2a" >c</text>
<text x="707.60" y="365.10" font-size="12.5" text-anchor="middle" fill="#2a2a2a" >cf</text>
<text x="707.60" y="386.10" font-size="12.5" text-anchor="middle" fill="#2a2a2a" >c</text>
<text x="707.60" y="429.30" font-size="12.5" text-anchor="middle" fill="#2a2a2a" >c</text>
<text x="735.80" y="383.90" font-size="12.5" text-anchor="middle" fill="#2a2a2a" >cf</text>
<text x="735.80" y="408.90" font-size="12.5" text-anchor="middle" fill="#2a2a2a" >c</text>
<text x="735.80" y="453.60" font-size="12.5" text-anchor="middle" fill="#2a2a2a" >c</text>
<path d="M476.90,445.30 L493.90,445.30" stroke="#000" stroke-width="2"/>
<circle cx="485.40" cy="445.30" r="3.45" fill="#fff" stroke="#000" stroke-width="2.1"/>
<text x="504.00" y="449.50" font-size="11.8" text-anchor="start" fill="#2a2a2a" >NS</text>
<path d="M476.90,460.90 L493.90,460.90" stroke="#000" stroke-width="2"/>
<circle cx="485.40" cy="460.90" r="3.75" fill="#000"/>
<text x="504.00" y="465.10" font-size="11.8" text-anchor="start" fill="#2a2a2a" >LE 0.2%</text>
<path d="M476.90,476.50 L493.90,476.50" stroke="#000" stroke-width="2"/>
<rect x="481.70" y="472.80" width="7.40" height="7.40" fill="#000"/>
<text x="504.00" y="480.70" font-size="11.8" text-anchor="start" fill="#2a2a2a" >LE 0.4%</text>
<path d="M476.90,492.10 L493.90,492.10" stroke="#000" stroke-width="2"/>
<path d="M481.30,488.50 L489.50,488.50 L485.40,495.60Z" fill="#000"/>
<text x="504.00" y="496.30" font-size="11.8" text-anchor="start" fill="#2a2a2a" >LE 0.6%</text>
<path d="M476.90,507.70 L493.90,507.70" stroke="#000" stroke-width="2"/>
<path d="M480.90,507.70 L485.40,503.20 L489.90,507.70 L485.40,512.20Z" fill="#000"/>
<text x="504.00" y="511.90" font-size="11.8" text-anchor="start" fill="#2a2a2a" >LE 0.8%</text>
</svg>
</body></html>
